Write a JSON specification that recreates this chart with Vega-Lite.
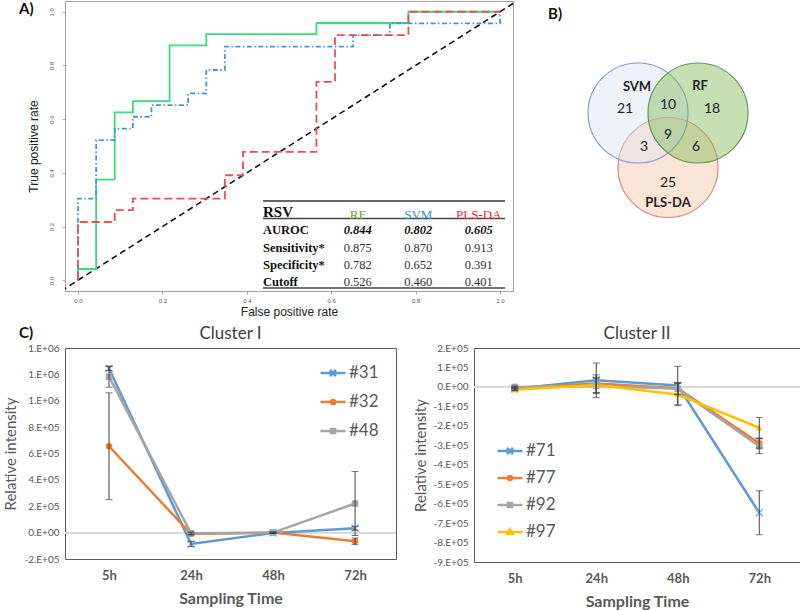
{
"$schema":"https://vega.github.io/schema/vega-lite/v6.json",
"background":"white",
"padding":{"left":3,"top":0,"right":0,"bottom":0},
"config":{"view":{"stroke":null},"font":"Lato","axis":{"grid":false,"labelOverlap":false},"title":{"font":"Lato"}},
"datasets":{
"roc":[
{"model":"RF","i":0,"fpr":0,"tpr":0},{"model":"RF","i":1,"fpr":0,"tpr":0.042},{"model":"RF","i":2,"fpr":0.043,"tpr":0.375},{"model":"RF","i":3,"fpr":0.087,"tpr":0.625},{"model":"RF","i":4,"fpr":0.13,"tpr":0.667},{"model":"RF","i":5,"fpr":0.217,"tpr":0.875},{"model":"RF","i":6,"fpr":0.304,"tpr":0.917},{"model":"RF","i":7,"fpr":0.565,"tpr":0.958},{"model":"RF","i":8,"fpr":0.783,"tpr":1},{"model":"RF","i":9,"fpr":1,"tpr":1},
{"model":"SVM","i":0,"fpr":0,"tpr":0},{"model":"SVM","i":1,"fpr":0,"tpr":0.304},{"model":"SVM","i":2,"fpr":0.043,"tpr":0.522},{"model":"SVM","i":3,"fpr":0.087,"tpr":0.565},{"model":"SVM","i":4,"fpr":0.13,"tpr":0.609},{"model":"SVM","i":5,"fpr":0.174,"tpr":0.652},{"model":"SVM","i":6,"fpr":0.261,"tpr":0.696},{"model":"SVM","i":7,"fpr":0.304,"tpr":0.783},{"model":"SVM","i":8,"fpr":0.348,"tpr":0.87},{"model":"SVM","i":9,"fpr":0.652,"tpr":0.913},{"model":"SVM","i":10,"fpr":0.739,"tpr":0.957},{"model":"SVM","i":11,"fpr":1,"tpr":1},
{"model":"PLS-DA","i":0,"fpr":0,"tpr":0},{"model":"PLS-DA","i":1,"fpr":0,"tpr":0.217},{"model":"PLS-DA","i":2,"fpr":0.087,"tpr":0.261},{"model":"PLS-DA","i":3,"fpr":0.13,"tpr":0.304},{"model":"PLS-DA","i":4,"fpr":0.348,"tpr":0.391},{"model":"PLS-DA","i":5,"fpr":0.391,"tpr":0.478},{"model":"PLS-DA","i":6,"fpr":0.565,"tpr":0.739},{"model":"PLS-DA","i":7,"fpr":0.609,"tpr":0.913},{"model":"PLS-DA","i":8,"fpr":0.783,"tpr":1},{"model":"PLS-DA","i":9,"fpr":1,"tpr":1}
],
"rsv_table":[
{"row":"RSV","col":"lab","text":"RSV"},{"row":"RSV","col":"RF","text":"RF"},{"row":"RSV","col":"SVM","text":"SVM"},{"row":"RSV","col":"PLS-DA","text":"PLS-DA"},
{"row":"AUROC","col":"lab","text":"AUROC"},{"row":"AUROC","col":"RF","text":"0.844"},{"row":"AUROC","col":"SVM","text":"0.802"},{"row":"AUROC","col":"PLS-DA","text":"0.605"},
{"row":"Sensitivity*","col":"lab","text":"Sensitivity*"},{"row":"Sensitivity*","col":"RF","text":"0.875"},{"row":"Sensitivity*","col":"SVM","text":"0.870"},{"row":"Sensitivity*","col":"PLS-DA","text":"0.913"},
{"row":"Specificity*","col":"lab","text":"Specificity*"},{"row":"Specificity*","col":"RF","text":"0.782"},{"row":"Specificity*","col":"SVM","text":"0.652"},{"row":"Specificity*","col":"PLS-DA","text":"0.391"},
{"row":"Cutoff","col":"lab","text":"Cutoff"},{"row":"Cutoff","col":"RF","text":"0.526"},{"row":"Cutoff","col":"SVM","text":"0.460"},{"row":"Cutoff","col":"PLS-DA","text":"0.401"}
],
"rules":[{"row":"RSV","a":"lab","b":"PLS-DA","k":"top"},{"row":"RSV","a":"lab","b":"PLS-DA","k":"mid"},{"row":"Cutoff","a":"lab","b":"PLS-DA","k":"bottom"}],
"venn_sets":[{"set":"PLS-DA","cx":0,"cy":-0.55,"o":0},{"set":"SVM","cx":-0.6,"cy":0.54,"o":1},{"set":"RF","cx":0.6,"cy":0.54,"o":2}],
"venn_labels":[
{"label":"SVM","kind":"set","lx":-0.62,"ly":1.06},{"label":"RF","kind":"set","lx":0.64,"ly":1.08},{"label":"PLS-DA","kind":"set","lx":0,"ly":-1.26},
{"label":"21","kind":"count","lx":-0.86,"ly":0.62},{"label":"10","kind":"count","lx":0,"ly":0.7},{"label":"18","kind":"count","lx":0.88,"ly":0.62},
{"label":"9","kind":"count","lx":0,"ly":0.1},{"label":"3","kind":"count","lx":-0.48,"ly":-0.14},{"label":"6","kind":"count","lx":0.56,"ly":-0.14},{"label":"25","kind":"count","lx":0,"ly":-0.86}
],
"c1":[
{"s":"#31","t":"5h","v":1244000,"e":15000},{"s":"#31","t":"24h","v":-86000,"e":20000},{"s":"#31","t":"48h","v":-2000,"e":5000},{"s":"#31","t":"72h","v":33000,"e":15000},
{"s":"#32","t":"5h","v":655000,"e":405000},{"s":"#32","t":"24h","v":-10000,"e":8000},{"s":"#32","t":"48h","v":0,"e":4000},{"s":"#32","t":"72h","v":-66000,"e":25000},
{"s":"#48","t":"5h","v":1183000,"e":80000},{"s":"#48","t":"24h","v":-5000,"e":10000},{"s":"#48","t":"48h","v":0,"e":4000},{"s":"#48","t":"72h","v":221000,"e":243000}
],
"c2":[
{"s":"#71","t":"5h","v":-9000,"e":8000},{"s":"#71","t":"24h","v":34000,"e":89000},{"s":"#71","t":"48h","v":7000,"e":99000},{"s":"#71","t":"72h","v":-647000,"e":113000},
{"s":"#77","t":"5h","v":-5000,"e":5000},{"s":"#77","t":"24h","v":17000,"e":45000},{"s":"#77","t":"48h","v":-7000,"e":30000},{"s":"#77","t":"72h","v":-290000,"e":25000},
{"s":"#92","t":"5h","v":0,"e":5000},{"s":"#92","t":"24h","v":5000,"e":40000},{"s":"#92","t":"48h","v":-10000,"e":30000},{"s":"#92","t":"72h","v":-305000,"e":38000},
{"s":"#97","t":"5h","v":-14000,"e":5000},{"s":"#97","t":"24h","v":10000,"e":40000},{"s":"#97","t":"48h","v":-39000,"e":57000},{"s":"#97","t":"72h","v":-210000,"e":53000}
]
},
"spacing":6,
"vconcat":[
{"hconcat":[
 {
 "width":448,"height":290,
 "view":{"stroke":"#a0a0a0","strokeWidth":1},
 "title":{"text":"A)","anchor":"start","frame":"group","dx":-46,"dy":16,"offset":0,"fontSize":15,"fontWeight":"bold","color":"#111"},
 "layer":[
   {"data":{"values":[{"d":-0.1},{"d":1.1}]},
    "mark":{"type":"line","color":"#111","strokeWidth":1.6,"strokeDash":[6,4],"clip":true},
    "encoding":{
     "x":{"field":"d","type":"quantitative","scale":{"domain":[-0.0308,1.0308],"nice":false,"zero":false},
      "axis":{"title":"False positive rate","values":[0,0.2,0.4,0.6,0.8,1],"tickCount":20,"format":".1f","labelFont":"Liberation Sans","labelFontSize":6,"labelColor":"#555","tickColor":"#aaa","tickSize":3,"domain":false,"labelPadding":3,"titleFont":"Liberation Sans","titleFontSize":12,"titleFontWeight":"normal","titleColor":"#222","titlePadding":3}},
     "y":{"field":"d","type":"quantitative","scale":{"domain":[-0.04,1.04],"nice":false,"zero":false},
      "axis":{"title":"True positive rate","values":[0,0.2,0.4,0.6,0.8,1],"tickCount":20,"format":".1f","labelAngle":270,"labelAlign":"center","labelBaseline":"bottom","labelFont":"Liberation Sans","labelFontSize":6,"labelColor":"#555","tickColor":"#aaa","tickSize":3,"domain":false,"labelPadding":8,"titleFont":"Liberation Sans","titleFontSize":12,"titleFontWeight":"normal","titleColor":"#222","titlePadding":8}}}},
   {"data":{"name":"roc"},
    "mark":{"type":"line","interpolate":"step-after","strokeWidth":1.8,"clip":true},
    "encoding":{
     "x":{"field":"fpr","type":"quantitative","scale":{"domain":[-0.0308,1.0308],"nice":false,"zero":false},"axis":null},
     "y":{"field":"tpr","type":"quantitative","scale":{"domain":[-0.04,1.04],"nice":false,"zero":false},"axis":null},
     "color":{"field":"model","type":"nominal","scale":{"domain":["RF","SVM","PLS-DA"],"range":["#33e07c","#3d95ee","#f44a50"]},"legend":null},
     "strokeDash":{"field":"model","type":"nominal","scale":{"domain":["RF","SVM","PLS-DA"],"range":[[1,0],[5,2.5,1.5,2.5],[8,4]]},"legend":null},
     "order":{"field":"i","type":"quantitative"}}},
   {"data":{"name":"rules"},"transform":[{"filter":"datum.k=='top'"}],
    "mark":{"type":"rule","color":"#333","strokeWidth":1.5},
    "encoding":{
     "x":{"field":"a","type":"nominal","bandPosition":0,"scale":{"type":"band","domain":["lab","RF","SVM","PLS-DA"],"range":[198,440],"paddingInner":0,"paddingOuter":0},"axis":null},
     "x2":{"field":"b","bandPosition":1},
     "y":{"field":"row","type":"nominal","bandPosition":0,"scale":{"type":"band","domain":["RSV","AUROC","Sensitivity*","Specificity*","Cutoff"],"range":[200,287],"paddingInner":0,"paddingOuter":0},"axis":null}}},
   {"data":{"name":"rules"},"transform":[{"filter":"datum.k!='top'"}],
    "mark":{"type":"rule","color":"#444","strokeWidth":1.5},
    "encoding":{
     "x":{"field":"a","type":"nominal","bandPosition":0,"scale":{"type":"band","domain":["lab","RF","SVM","PLS-DA"],"range":[198,440],"paddingInner":0,"paddingOuter":0},"axis":null},
     "x2":{"field":"b","bandPosition":1},
     "y":{"field":"row","type":"nominal","bandPosition":1,"scale":{"type":"band","domain":["RSV","AUROC","Sensitivity*","Specificity*","Cutoff"],"range":[200,287],"paddingInner":0,"paddingOuter":0},"axis":null}}},
   {"data":{"name":"rsv_table"},"transform":[{"filter":"datum.row=='RSV' && datum.col=='lab'"}],
    "mark":{"type":"text","align":"left","baseline":"middle","font":"Liberation Serif","fontSize":15,"fontWeight":"bold","color":"#111","dy":2},
    "encoding":{
     "x":{"field":"col","type":"nominal","bandPosition":0,"scale":{"type":"band","domain":["lab","RF","SVM","PLS-DA"],"range":[198,440],"paddingInner":0,"paddingOuter":0},"axis":null},
     "y":{"field":"row","type":"nominal","scale":{"type":"band","domain":["RSV","AUROC","Sensitivity*","Specificity*","Cutoff"],"range":[200,287],"paddingInner":0,"paddingOuter":0},"axis":null},
     "text":{"field":"text"}}},
   {"data":{"name":"rsv_table"},"transform":[{"filter":"datum.row=='RSV' && datum.col!='lab'"}],
    "mark":{"type":"text","align":"center","baseline":"middle","font":"Liberation Serif","fontSize":13,"dx":4,"dy":5},
    "encoding":{
     "x":{"field":"col","type":"nominal","scale":{"type":"band","domain":["lab","RF","SVM","PLS-DA"],"range":[198,440],"paddingInner":0,"paddingOuter":0},"axis":null},
     "y":{"field":"row","type":"nominal","scale":{"type":"band","domain":["RSV","AUROC","Sensitivity*","Specificity*","Cutoff"],"range":[200,287],"paddingInner":0,"paddingOuter":0},"axis":null},
     "text":{"field":"text"},
     "color":{"field":"col","type":"nominal","scale":{"domain":["RF","SVM","PLS-DA"],"range":["#6b9e3e","#3a8fd0","#f02d2d"]},"legend":null}}},
   {"data":{"name":"rsv_table"},"transform":[{"filter":"datum.row!='RSV' && datum.col=='lab'"}],
    "mark":{"type":"text","align":"left","baseline":"middle","font":"Liberation Serif","fontSize":12.5,"fontWeight":"bold","color":"#111","dy":3},
    "encoding":{
     "x":{"field":"col","type":"nominal","bandPosition":0,"scale":{"type":"band","domain":["lab","RF","SVM","PLS-DA"],"range":[198,440],"paddingInner":0,"paddingOuter":0},"axis":null},
     "y":{"field":"row","type":"nominal","scale":{"type":"band","domain":["RSV","AUROC","Sensitivity*","Specificity*","Cutoff"],"range":[200,287],"paddingInner":0,"paddingOuter":0},"axis":null},
     "text":{"field":"text"}}},
   {"data":{"name":"rsv_table"},"transform":[{"filter":"datum.row=='AUROC' && datum.col!='lab'"}],
    "mark":{"type":"text","align":"center","baseline":"middle","font":"Liberation Serif","fontSize":12.5,"fontWeight":"bold","fontStyle":"italic","color":"#111","dx":4,"dy":3},
    "encoding":{
     "x":{"field":"col","type":"nominal","scale":{"type":"band","domain":["lab","RF","SVM","PLS-DA"],"range":[198,440],"paddingInner":0,"paddingOuter":0},"axis":null},
     "y":{"field":"row","type":"nominal","scale":{"type":"band","domain":["RSV","AUROC","Sensitivity*","Specificity*","Cutoff"],"range":[200,287],"paddingInner":0,"paddingOuter":0},"axis":null},
     "text":{"field":"text"}}},
   {"data":{"name":"rsv_table"},"transform":[{"filter":"datum.row!='RSV' && datum.row!='AUROC' && datum.col!='lab'"}],
    "mark":{"type":"text","align":"center","baseline":"middle","font":"Liberation Serif","fontSize":12.5,"color":"#333","dx":4,"dy":3},
    "encoding":{
     "x":{"field":"col","type":"nominal","scale":{"type":"band","domain":["lab","RF","SVM","PLS-DA"],"range":[198,440],"paddingInner":0,"paddingOuter":0},"axis":null},
     "y":{"field":"row","type":"nominal","scale":{"type":"band","domain":["RSV","AUROC","Sensitivity*","Specificity*","Cutoff"],"range":[200,287],"paddingInner":0,"paddingOuter":0},"axis":null},
     "text":{"field":"text"}}}
 ],
 "resolve":{"scale":{"x":"independent","y":"independent","color":"independent"},"axis":{"x":"independent","y":"independent"}}
 },
 {
 "width":239,"height":290,
 "title":{"text":"B)","anchor":"start","frame":"group","dx":-20,"dy":21,"offset":0,"fontSize":15,"fontWeight":"bold","color":"#111"},
 "layer":[
  {"data":{"name":"venn_sets"},
   "mark":{"type":"point","shape":"circle","size":10000,"filled":true,"fillOpacity":0.45,"strokeWidth":1.2,"strokeOpacity":0.9},
   "encoding":{
    "x":{"field":"cx","type":"quantitative","scale":{"domain":[-2,2.78],"nice":false,"zero":false},"axis":null},
    "y":{"field":"cy","type":"quantitative","scale":{"domain":[-3.02,2.78],"nice":false,"zero":false},"axis":null},
    "fill":{"field":"set","type":"nominal","scale":{"domain":["SVM","RF","PLS-DA"],"range":["#dae5f4","#81bb59","#f7c6a4"]},"legend":null},
    "stroke":{"field":"set","type":"nominal","scale":{"domain":["SVM","RF","PLS-DA"],"range":["#7393cf","#5e8c45","#f07474"]},"legend":null},
    "order":{"field":"o","type":"quantitative"}}},
  {"data":{"name":"venn_labels"},"transform":[{"filter":"datum.kind=='set'"}],
   "mark":{"type":"text","fontSize":13,"fontWeight":"bold","color":"#222"},
   "encoding":{"x":{"field":"lx","type":"quantitative"},"y":{"field":"ly","type":"quantitative"},"text":{"field":"label"}}},
  {"data":{"name":"venn_labels"},"transform":[{"filter":"datum.kind=='count'"}],
   "mark":{"type":"text","fontSize":14,"color":"#222"},
   "encoding":{"x":{"field":"lx","type":"quantitative"},"y":{"field":"ly","type":"quantitative"},"text":{"field":"label"}}}
 ]
 }
],"spacing":55,"bounds":"flush"},
{"title":{"text":"C)","anchor":"start","frame":"group","dx":-46,"dy":20,"offset":4,"fontSize":15,"fontWeight":"bold","color":"#111"},
"hconcat":[
 {
 "width":331,"height":211,
 "view":{"stroke":"#595959","strokeWidth":1},
 "title":{"text":"Cluster I","fontSize":17,"fontWeight":"normal","color":"#404040","offset":0},
 "data":{"name":"c1"},
 "layer":[
  {"mark":{"type":"rule","color":"#d9d9d9","strokeWidth":1},"encoding":{"y":{"datum":0,"type":"quantitative","title":"Relative intensity"}}},
  {"mark":{"type":"line","strokeWidth":2.5},
   "encoding":{
    "x":{"field":"t","type":"ordinal","title":"Sampling Time","scale":{"type":"point","domain":["5h","24h","48h","72h"],"padding":0.518,"align":0.518},
     "axis":{"titleFontSize":16,"titleFontWeight":"bold","titleColor":"#595959","titlePadding":8,"labelFontSize":13,"labelFontWeight":"bold","labelColor":"#595959","labelPadding":10,"ticks":false,"domain":false,"labelAngle":0}},
    "y":{"field":"v","type":"quantitative","title":"Relative intensity","scale":{"domain":[-200000,1400000],"nice":false,"zero":false},
     "axis":{"titleFontSize":15,"titleFontWeight":"normal","titleColor":"#595959","titlePadding":5,"labelFontSize":10,"labelColor":"#595959","labelPadding":6,"labelOverlap":false,"tickCount":30,"ticks":false,"domain":false,"values":[-200000,0,200000,400000,600000,800000,1000000,1200000,1400000],"labelExpr":"round(datum.value/pow(10, datum.value==0 ? 0 : floor(log(abs(datum.value))/LN10+1e-9))) + '.E+0' + (datum.value==0 ? 0 : floor(log(abs(datum.value))/LN10+1e-9))"}},
    "color":{"field":"s","type":"nominal","scale":{"domain":["#31","#32","#48"],"range":["#5b9bd5","#ed7d31","#a5a5a5"]},"legend":null}}},
  {"transform":[{"filter":"datum.s!='#31'"}],
   "mark":{"type":"point","filled":true,"opacity":1,"size":42},
   "encoding":{"x":{"field":"t","type":"ordinal","title":"Sampling Time"},"y":{"field":"v","type":"quantitative","title":"Relative intensity"},
    "color":{"field":"s","type":"nominal","scale":{"domain":["#31","#32","#48"],"range":["#5b9bd5","#ed7d31","#a5a5a5"]},"legend":null},
    "shape":{"field":"s","type":"nominal","scale":{"domain":["#32","#48"],"range":["circle","square"]},"legend":null}}},
  {"transform":[{"filter":"datum.s=='#31'"}],
   "mark":{"type":"point","shape":"M-1,-1L1,1M-1,1L1,-1","filled":false,"opacity":1,"size":49,"strokeWidth":1.5,"color":"#7fb0de"},
   "encoding":{"x":{"field":"t","type":"ordinal","title":"Sampling Time"},"y":{"field":"v","type":"quantitative","title":"Relative intensity"}}},
  {"mark":{"type":"errorbar","color":"#404040","ticks":{"size":7,"color":"#404040"},"rule":{"color":"#404040","strokeWidth":1}},
   "encoding":{"x":{"field":"t","type":"ordinal","title":"Sampling Time"},"y":{"field":"v","type":"quantitative","title":"Relative intensity"},"yError":{"field":"e"}}},
  {"mark":{"type":"point","filled":false,"opacity":0},
   "encoding":{"x":{"field":"t","type":"ordinal","title":"Sampling Time"},"y":{"field":"v","type":"quantitative","title":"Relative intensity"},
    "color":{"field":"s","type":"nominal","scale":{"domain":["#31","#32","#48"],"range":["#5b9bd5","#ed7d31","#a5a5a5"]},
     "legend":{"orient":"none","legendX":254,"legendY":11,"title":null,"symbolSize":625,"symbolStrokeWidth":2.5,"symbolOpacity":1,"labelFontSize":17,"labelColor":"#595959","labelFont":"Lato","rowPadding":7,"labelOffset":2}},
    "shape":{"field":"s","type":"nominal","scale":{"domain":["#31","#32","#48"],"range":["M-1,0H1M-0.24,-0.24L0.24,0.24M-0.24,0.24L0.24,-0.24","M-1,0H1M0.16,0A0.16,0.16,0,1,1,-0.16,0A0.16,0.16,0,1,1,0.16,0Z","M-1,0H1M-0.16,-0.16H0.16V0.16H-0.16Z"]},
     "legend":{"orient":"none","legendX":254,"legendY":11,"title":null,"symbolSize":625,"symbolStrokeWidth":2.5,"symbolOpacity":1,"labelFontSize":17,"labelColor":"#595959","labelFont":"Lato","rowPadding":7,"labelOffset":2}}}}
 ],
 "resolve":{"scale":{"shape":"independent","color":"independent"},"legend":{"shape":"independent","color":"independent"}}
 },
 {
 "width":326,"height":214,
 "view":{"stroke":"#595959","strokeWidth":1},
 "title":{"text":"Cluster II","fontSize":17,"fontWeight":"normal","color":"#404040","offset":0},
 "data":{"name":"c2"},
 "layer":[
  {"mark":{"type":"rule","color":"#d9d9d9","strokeWidth":1},"encoding":{"y":{"datum":0,"type":"quantitative","title":"Relative intensity"}}},
  {"mark":{"type":"line","strokeWidth":2.5},
   "encoding":{
    "x":{"field":"t","type":"ordinal","title":"Sampling Time","scale":{"type":"point","domain":["5h","24h","48h","72h"],"padding":0.5},
     "axis":{"titleFontSize":16,"titleFontWeight":"bold","titleColor":"#595959","titlePadding":8,"labelFontSize":13,"labelFontWeight":"bold","labelColor":"#595959","labelPadding":10,"ticks":false,"domain":false,"labelAngle":0}},
    "y":{"field":"v","type":"quantitative","title":"Relative intensity","scale":{"domain":[-900000,200000],"nice":false,"zero":false},
     "axis":{"titleFontSize":15,"titleFontWeight":"normal","titleColor":"#595959","titlePadding":4,"labelFontSize":10,"labelColor":"#595959","labelPadding":6,"labelOverlap":false,"tickCount":30,"ticks":false,"domain":false,"values":[-900000,-800000,-700000,-600000,-500000,-400000,-300000,-200000,-100000,0,100000,200000],"labelExpr":"round(datum.value/pow(10, datum.value==0 ? 0 : floor(log(abs(datum.value))/LN10+1e-9))) + '.E+0' + (datum.value==0 ? 0 : floor(log(abs(datum.value))/LN10+1e-9))"}},
    "color":{"field":"s","type":"nominal","scale":{"domain":["#71","#77","#92","#97"],"range":["#5b9bd5","#ed7d31","#a5a5a5","#ffc000"]},"legend":null}}},
  {"transform":[{"filter":"datum.s!='#71'"}],
   "mark":{"type":"point","filled":true,"opacity":1,"size":42},
   "encoding":{"x":{"field":"t","type":"ordinal","title":"Sampling Time"},"y":{"field":"v","type":"quantitative","title":"Relative intensity"},
    "color":{"field":"s","type":"nominal","scale":{"domain":["#71","#77","#92","#97"],"range":["#5b9bd5","#ed7d31","#a5a5a5","#ffc000"]},"legend":null},
    "shape":{"field":"s","type":"nominal","scale":{"domain":["#77","#92","#97"],"range":["circle","square","triangle-up"]},"legend":null}}},
  {"transform":[{"filter":"datum.s=='#71'"}],
   "mark":{"type":"point","shape":"M-1,-1L1,1M-1,1L1,-1","filled":false,"opacity":1,"size":49,"strokeWidth":1.5,"color":"#7fb0de"},
   "encoding":{"x":{"field":"t","type":"ordinal","title":"Sampling Time"},"y":{"field":"v","type":"quantitative","title":"Relative intensity"}}},
  {"mark":{"type":"errorbar","color":"#404040","ticks":{"size":7,"color":"#404040"},"rule":{"color":"#404040","strokeWidth":1}},
   "encoding":{"x":{"field":"t","type":"ordinal","title":"Sampling Time"},"y":{"field":"v","type":"quantitative","title":"Relative intensity"},"yError":{"field":"e"}}},
  {"mark":{"type":"point","filled":false,"opacity":0},
   "encoding":{"x":{"field":"t","type":"ordinal","title":"Sampling Time"},"y":{"field":"v","type":"quantitative","title":"Relative intensity"},
    "color":{"field":"s","type":"nominal","scale":{"domain":["#71","#77","#92","#97"],"range":["#5b9bd5","#ed7d31","#a5a5a5","#ffc000"]},
     "legend":{"orient":"none","legendX":22,"legendY":89,"title":null,"symbolSize":625,"symbolStrokeWidth":2.5,"symbolOpacity":1,"labelFontSize":17,"labelColor":"#595959","labelFont":"Lato","rowPadding":5,"labelOffset":2}},
    "shape":{"field":"s","type":"nominal","scale":{"domain":["#71","#77","#92","#97"],"range":["M-1,0H1M-0.24,-0.24L0.24,0.24M-0.24,0.24L0.24,-0.24","M-1,0H1M0.16,0A0.16,0.16,0,1,1,-0.16,0A0.16,0.16,0,1,1,0.16,0Z","M-1,0H1M-0.16,-0.16H0.16V0.16H-0.16Z","M-1,0H1M0,-0.22L0.2,0.13H-0.2Z"]},
     "legend":{"orient":"none","legendX":22,"legendY":89,"title":null,"symbolSize":625,"symbolStrokeWidth":2.5,"symbolOpacity":1,"labelFontSize":17,"labelColor":"#595959","labelFont":"Lato","rowPadding":5,"labelOffset":2}}}}
 ],
 "resolve":{"scale":{"shape":"independent","color":"independent"},"legend":{"shape":"independent","color":"independent"}}
 }
],"spacing":78,"bounds":"flush"}
]
}
